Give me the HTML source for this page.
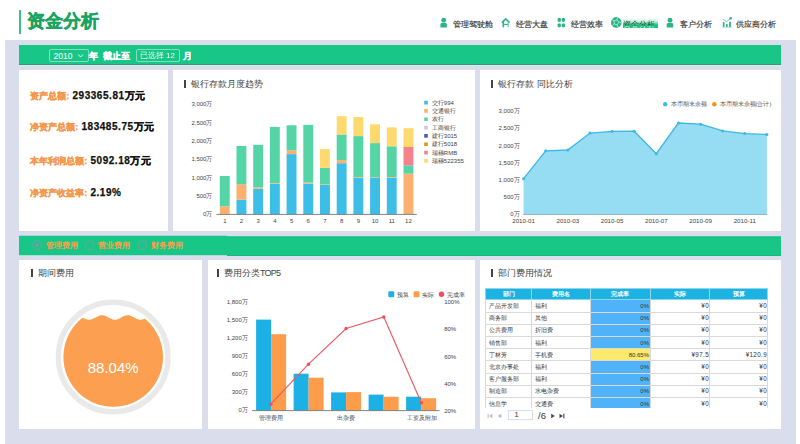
<!DOCTYPE html>
<html><head><meta charset="utf-8">
<style>
*{margin:0;padding:0;box-sizing:border-box}
html,body{width:800px;height:444px;overflow:hidden;background:#fff;font-family:"Liberation Sans",sans-serif;color:#333}
.a{position:absolute}
#title-bar{left:19px;top:10px;width:2px;height:24px;background:#3cbf87}
#title{left:27px;top:9px;font-size:17.5px;font-weight:bold;-webkit-text-stroke:.45px #19a463;color:#19a463;line-height:24px;white-space:nowrap}
.nav{top:18.5px;font-size:8px;line-height:12px;color:#333;white-space:nowrap;-webkit-text-stroke:.15px #333}
#bg{left:5px;top:40px;width:791px;height:404px;background:#d9ddec}
.gbar{background:#18c688}
.g1{border-bottom:1px solid #2b9f73;box-shadow:0 1px 0 #e5e3f3}
.g2{border-top:1px solid #12bd7c;border-bottom:1px solid #12bd7c}
.panel{background:#fff}
.sel{border:1px solid rgba(255,255,255,.45);border-radius:2px}
.rt{top:240px;font-size:8px;line-height:11px;font-weight:bold;color:#f5a04a;white-space:nowrap}
.wt{color:#fff;white-space:nowrap}
.ptitle{font-size:9px;line-height:10px;color:#444;white-space:nowrap}
.ptitle:before{content:"";display:inline-block;width:2px;height:8px;background:#444;margin-right:5px;vertical-align:-1px}
.kpi{white-space:nowrap;line-height:14px;font-size:9px}
.kl{font-size:9px;font-weight:bold;color:#f5974a;white-space:nowrap;-webkit-text-stroke:.25px #f5974a}
.kv{font-size:10px;font-weight:bold;color:#111;-webkit-text-stroke:.25px #111;letter-spacing:.55px;margin-left:.6px}
#tblwrap{left:485px;top:288.2px;width:283px;height:119.5px;overflow:hidden}
#tbl{border-collapse:collapse;table-layout:fixed;width:282px;font-size:6px;color:#333}
#tbl td{border:1px solid #d9d9d9;height:12.2px;padding:0 0 0 3px;white-space:nowrap;overflow:hidden;line-height:10px}
#tbl tr.th td{background:#1cb3e2;color:#fff;font-weight:bold;text-align:center;border-color:#8fd6ee;height:11.3px;padding:0}
#tbl td.c3{background:#50b3f9;text-align:right;padding:0 .5px 0 0}
#tbl td.y{background:#fde96b}
#tbl td.r{text-align:right;padding:0 0 0 0;font-size:6.3px;letter-spacing:.35px}
svg text{font-family:"Liberation Sans",sans-serif}
</style></head><body>
<div class="a" id="title-bar"></div>
<div class="a" id="title">资金分析</div>

<!-- nav -->
<svg class="a" style="left:0;top:0" width="800" height="40" viewBox="0 0 800 40">
 <g fill="#2bb583">
  <circle cx="443.7" cy="20.2" r="2.4"/>
  <path d="M440.4 27.4 V24.6 Q440.4 22.7 442.4 22.7 H445 Q446.9 22.7 446.9 24.6 V27.4 Z"/>
  <circle cx="670" cy="20.2" r="2.4"/>
  <path d="M666.7 27.4 V24.6 Q666.7 22.7 668.7 22.7 H671.3 Q673.2 22.7 673.2 24.6 V27.4 Z"/>
  <!-- swot -->
  <rect x="557.6" y="17.9" width="3.3" height="3.8" rx="1"/>
  <rect x="561.7" y="17.9" width="3.3" height="3.8" rx="1"/>
  <rect x="557.6" y="23.5" width="3.3" height="3.8" rx="1"/>
  <rect x="561.7" y="23.5" width="3.3" height="3.8" rx="1"/>
  <!-- globe -->
  <circle cx="616.3" cy="22.4" r="5.3"/>
  <!-- chart -->
  <rect x="722.8" y="22.1" width="1.7" height="4.8"/>
  <rect x="726" y="24.1" width="1.7" height="2.8"/>
  <rect x="729.1" y="21.9" width="1.8" height="5"/>
  <rect x="722.2" y="26.9" width="9.8" height="0.6" opacity=".6"/>
  <circle cx="730.6" cy="18.3" r="1.3"/>
 </g>
 <g fill="none" stroke="#2bb583">
  <path d="M501.9 22.6 L505.7 18.9 L509.6 22.6" stroke-width="1.6" stroke-linejoin="round"/>
  <path d="M503.3 22 V27.3" stroke-width="1.6"/>
  <path d="M508.3 22.4 V27.2" stroke-width="1.5" opacity=".55"/>
  <path d="M503.3 24.4 H508" stroke-width="1.1"/>
  <path d="M723.4 19.4 L726.6 21.7 L730.3 18.5" stroke-width=".9" opacity=".8"/>
  <path d="M616.97 19.89 L618.90 22.26 L617.23 24.83 L614.28 24.04 L614.12 20.98 Z M616.97 19.89 L617.67 17.28 M618.90 22.26 L621.59 22.12 M617.23 24.83 L618.20 27.35 M614.28 24.04 L612.18 25.74 M614.12 20.98 L611.86 19.51" stroke="#fff" stroke-width=".7" opacity=".8"/>
 </g>
</svg>
<div class="a nav" style="left:453px">管理驾驶舱</div>
<div class="a nav" style="left:516px">经营大盘</div>
<div class="a nav" style="left:570.5px">经营效率</div>
<div class="a" style="left:623.2px;top:18.2px;width:34.7px;height:9.5px;background:linear-gradient(to bottom,rgba(26,198,126,0) 0%,rgba(26,198,126,.25) 35%,#1ac67e 68%,#17c27a 100%)"></div>
<div class="a nav" style="left:623px;-webkit-text-stroke:0;color:transparent;background:linear-gradient(to bottom,#3a3a3a 0px,#3a3a3a 6.3px,#e8fff4 7.3px,#e8fff4 12px);-webkit-background-clip:text;background-clip:text">资金分析</div>
<div class="a nav" style="left:679.5px">客户分析</div>
<div class="a nav" style="left:735.5px">供应商分析</div>

<div class="a" id="bg"></div>
<div class="a gbar g1" style="left:19px;top:44.5px;width:762px;height:20.5px"></div>
<div class="a sel" style="left:49px;top:49px;width:39.5px;height:13px"></div>
<div class="a wt" style="left:53.5px;top:50px;font-size:8.5px;line-height:12px">2010</div>
<svg class="a" style="left:77px;top:53px" width="8" height="6"><path d="M1.2 1.5 L3.6 4 L6 1.5" fill="none" stroke="#fff" stroke-width=".9"/></svg>
<div class="a wt" style="left:88.5px;top:49.5px;font-size:9px;line-height:12px;font-weight:bold;-webkit-text-stroke:.3px #fff">年</div>
<div class="a wt" style="left:103px;top:49.5px;font-size:9px;line-height:12px;font-weight:bold;-webkit-text-stroke:.3px #fff">截止至</div>
<div class="a sel" style="left:135.5px;top:49px;width:44px;height:13px"></div>
<div class="a wt" style="left:139.8px;top:49.8px;font-size:8px;line-height:12px;opacity:.92">已选择 12</div>
<div class="a wt" style="left:182.5px;top:49.5px;font-size:9px;line-height:12px;font-weight:bold;-webkit-text-stroke:.3px #fff">月</div>
<div class="a panel" style="left:19px;top:70px;width:149px;height:161px"></div>
<div class="a kpi" style="left:30.3px;top:88.8px"><span class="kl">资产总额:</span> <span class="kv">293365.81万元</span></div>
<div class="a kpi" style="left:30.3px;top:120.3px"><span class="kl">净资产总额:</span> <span class="kv">183485.75万元</span></div>
<div class="a kpi" style="left:30.3px;top:153.8px"><span class="kl">本年利润总额:</span> <span class="kv">5092.18万元</span></div>
<div class="a kpi" style="left:30.3px;top:186.3px"><span class="kl">净资产收益率:</span> <span class="kv">2.19%</span></div>
<div class="a panel" style="left:173px;top:70px;width:302px;height:161px"></div>
<div class="a panel" style="left:480px;top:70px;width:301px;height:161px"></div>
<svg class="a" style="left:0;top:230px" width="800" height="30">
 <rect x="19" y="25.25" width="208" height="1" fill="#e6e2f4"/>
 <rect x="19" y="5.75" width="208" height="19.5" fill="#18c688"/>
 <rect x="227" y="6.5" width="554" height="19.5" fill="#18c688"/>
 <rect x="227" y="6.5" width="554" height=".9" fill="#10bd7a"/>
 <rect x="227" y="25.1" width="554" height=".9" fill="#10bd7a"/>
</svg>
<svg class="a" style="left:0;top:236px" width="200" height="19">
 <g fill="none" stroke="#8a9aa8" stroke-width=".9" opacity=".9">
  <circle cx="37.1" cy="9.1" r="4.4"/><circle cx="89.7" cy="9.1" r="4.4"/><circle cx="142.3" cy="9.1" r="4.4"/>
 </g>
 <circle cx="37.1" cy="9.1" r="1.6" fill="#b47cb6"/>
</svg>
<div class="a rt" style="left:45.5px">管理费用</div>
<div class="a rt" style="left:98px">营业费用</div>
<div class="a rt" style="left:150.8px">财务费用</div>
<div class="a panel" style="left:19px;top:260px;width:183px;height:169px"></div>
<div class="a panel" style="left:208px;top:260px;width:267px;height:169px"></div>
<div class="a panel" style="left:480px;top:260px;width:301px;height:169px"></div>

<div class="a" id="tblwrap">
<table id="tbl">
<colgroup><col style="width:46px"><col style="width:59px"><col style="width:59.5px"><col style="width:59.5px"><col style="width:58px"></colgroup>
<tr class="th"><td>部门</td><td>费用名</td><td>完成率</td><td>实际</td><td>预算</td></tr>
<tr><td>产品开发部</td><td>福利</td><td class="c3">0%</td><td class="r">¥0</td><td class="r">¥0</td></tr>
<tr><td>商务部</td><td>其他</td><td class="c3">0%</td><td class="r">¥0</td><td class="r">¥0</td></tr>
<tr><td>公共费用</td><td>折旧费</td><td class="c3">0%</td><td class="r">¥0</td><td class="r">¥0</td></tr>
<tr><td>销售部</td><td>福利</td><td class="c3">0%</td><td class="r">¥0</td><td class="r">¥0</td></tr>
<tr><td>丁林芳</td><td>手机费</td><td class="c3 y">80.65%</td><td class="r">¥97.5</td><td class="r">¥120.9</td></tr>
<tr><td>北京办事处</td><td>福利</td><td class="c3">0%</td><td class="r">¥0</td><td class="r">¥0</td></tr>
<tr><td>客户服务部</td><td>福利</td><td class="c3">0%</td><td class="r">¥0</td><td class="r">¥0</td></tr>
<tr><td>制造部</td><td>水电杂费</td><td class="c3">0%</td><td class="r">¥0</td><td class="r">¥0</td></tr>
<tr><td>信息学</td><td>交通费</td><td class="c3">0%</td><td class="r">¥0</td><td class="r">¥0</td></tr>
</table>
</div>
<svg class="a" style="left:485px;top:410px" width="85" height="12">
 <g fill="#b8bcc8"><rect x="2.6" y="3.8" width="1" height="4.4"/><path d="M7.4 3.8 L4 6 L7.4 8.2 Z"/><path d="M16.3 3.8 L12.6 6 L16.3 8.2 Z"/></g>
 <rect x="23.3" y=".7" width="24.2" height="9" fill="#fff" stroke="#c9d3e6" stroke-width=".8"/>
 <g fill="#3c4660"><path d="M66.2 3.7 L69.8 6 L66.2 8.3 Z"/><path d="M74.5 3.7 L78 6 L74.5 8.3 Z"/><rect x="78.3" y="3.7" width="1.1" height="4.6"/></g>
</svg>
<div class="a" style="left:514.6px;top:410.3px;font-size:7.5px;line-height:9px;color:#333">1</div>
<div class="a" style="left:538px;top:409.5px;font-size:9.5px;line-height:11px;color:#333">/6</div>

<!-- panel titles -->
<div class="a ptitle" style="left:184px;top:79px">银行存款月度趋势</div>
<div class="a ptitle" style="left:491px;top:79px">银行存款 同比分析</div>
<div class="a ptitle" style="left:31px;top:268px">期间费用</div>
<div class="a ptitle" style="left:217px;top:268px">费用分类<span style="letter-spacing:-.8px">TOP5</span></div>
<div class="a ptitle" style="left:491px;top:268px">部门费用情况</div>

<!--CHARTS-->
<svg class="a" style="left:0;top:0" width="800" height="444" viewBox="0 0 800 444">
<g id="barchart">
<rect x="219.8" y="206.3" width="9.9" height="8.0" fill="#fcaf6e"/>
<rect x="219.8" y="176.0" width="9.9" height="30.3" fill="#55d5a5"/>
<rect x="236.5" y="199.6" width="9.9" height="14.7" fill="#3cbee6"/>
<rect x="236.5" y="184.2" width="9.9" height="15.4" fill="#fcaf6e"/>
<rect x="236.5" y="146.0" width="9.9" height="38.2" fill="#55d5a5"/>
<rect x="253.2" y="188.8" width="9.9" height="25.5" fill="#3cbee6"/>
<rect x="253.2" y="187.3" width="9.9" height="1.5" fill="#fcaf6e"/>
<rect x="253.2" y="144.8" width="9.9" height="42.5" fill="#55d5a5"/>
<rect x="269.9" y="183.6" width="9.9" height="30.7" fill="#3cbee6"/>
<rect x="269.9" y="183.0" width="9.9" height="0.6" fill="#fcaf6e"/>
<rect x="269.9" y="126.9" width="9.9" height="56.1" fill="#55d5a5"/>
<rect x="286.6" y="154.1" width="9.9" height="60.2" fill="#3cbee6"/>
<rect x="286.6" y="150.4" width="9.9" height="3.7" fill="#fcaf6e"/>
<rect x="286.6" y="125.3" width="9.9" height="25.1" fill="#55d5a5"/>
<rect x="303.3" y="183.6" width="9.9" height="30.7" fill="#3cbee6"/>
<rect x="303.3" y="182.5" width="9.9" height="1.1" fill="#fcaf6e"/>
<rect x="303.3" y="124.8" width="9.9" height="57.7" fill="#55d5a5"/>
<rect x="320.0" y="184.9" width="9.9" height="29.4" fill="#3cbee6"/>
<rect x="320.0" y="184.3" width="9.9" height="0.6" fill="#fcaf6e"/>
<rect x="320.0" y="167.9" width="9.9" height="16.4" fill="#55d5a5"/>
<rect x="320.0" y="149.1" width="9.9" height="18.8" fill="#fed96e"/>
<rect x="336.7" y="163.2" width="9.9" height="51.1" fill="#3cbee6"/>
<rect x="336.7" y="160.1" width="9.9" height="3.1" fill="#fcaf6e"/>
<rect x="336.7" y="134.5" width="9.9" height="25.6" fill="#55d5a5"/>
<rect x="336.7" y="116.2" width="9.9" height="18.3" fill="#fed96e"/>
<rect x="353.4" y="177.6" width="9.9" height="36.7" fill="#3cbee6"/>
<rect x="353.4" y="177.0" width="9.9" height="0.6" fill="#fcaf6e"/>
<rect x="353.4" y="136.1" width="9.9" height="40.9" fill="#55d5a5"/>
<rect x="353.4" y="117.0" width="9.9" height="19.1" fill="#fed96e"/>
<rect x="370.1" y="177.6" width="9.9" height="36.7" fill="#3cbee6"/>
<rect x="370.1" y="177.2" width="9.9" height="0.4" fill="#fcaf6e"/>
<rect x="370.1" y="143.1" width="9.9" height="34.1" fill="#55d5a5"/>
<rect x="370.1" y="124.3" width="9.9" height="18.8" fill="#fed96e"/>
<rect x="386.8" y="177.6" width="9.9" height="36.7" fill="#3cbee6"/>
<rect x="386.8" y="177.0" width="9.9" height="0.6" fill="#fcaf6e"/>
<rect x="386.8" y="146.3" width="9.9" height="30.7" fill="#55d5a5"/>
<rect x="386.8" y="127.4" width="9.9" height="18.9" fill="#fed96e"/>
<rect x="403.5" y="173.7" width="9.9" height="40.6" fill="#fcaf6e"/>
<rect x="403.5" y="165.3" width="9.9" height="8.4" fill="#55d5a5"/>
<rect x="403.5" y="147.0" width="9.9" height="18.3" fill="#f4828c"/>
<rect x="403.5" y="128.2" width="9.9" height="18.8" fill="#fed96e"/>
<rect x="216.4" y="213.9" width="200.3" height="0.9" fill="#777"/>
<g font-size="6" fill="#444" text-anchor="end">
<text x="212.4" y="106.4">3,000万</text>
<text x="212.4" y="124.7">2,500万</text>
<text x="212.4" y="142.9">2,000万</text>
<text x="212.4" y="161.2">1,500万</text>
<text x="212.4" y="179.5">1,000万</text>
<text x="212.4" y="197.7">500万</text>
<text x="212.4" y="215.9">0万</text>
</g>
<g font-size="6" fill="#444" text-anchor="middle">
<text x="224.8" y="222.9">1</text>
<text x="241.4" y="222.9">2</text>
<text x="258.2" y="222.9">3</text>
<text x="274.8" y="222.9">4</text>
<text x="291.6" y="222.9">5</text>
<text x="308.2" y="222.9">6</text>
<text x="324.9" y="222.9">7</text>
<text x="341.6" y="222.9">8</text>
<text x="358.3" y="222.9">9</text>
<text x="375.1" y="222.9">10</text>
<text x="391.8" y="222.9">11</text>
<text x="408.4" y="222.9">12</text>
</g>
<g font-size="6" fill="#444">
<rect x="424.2" y="100.8" width="3.6" height="3.6" rx=".5" fill="#3cbee6"/>
<text x="431.8" y="104.7">交行994</text>
<rect x="424.2" y="109.1" width="3.6" height="3.6" rx=".5" fill="#fcaf6e"/>
<text x="431.8" y="113.0">交通银行</text>
<rect x="424.2" y="117.5" width="3.6" height="3.6" rx=".5" fill="#55d5a5"/>
<text x="431.8" y="121.4">农行</text>
<rect x="424.2" y="125.8" width="3.6" height="3.6" rx=".5" fill="#c7c4f6"/>
<text x="431.8" y="129.7">工商银行</text>
<rect x="424.2" y="134.1" width="3.6" height="3.6" rx=".5" fill="#4861ae"/>
<text x="431.8" y="138.0">建行3015</text>
<rect x="424.2" y="142.4" width="3.6" height="3.6" rx=".5" fill="#cf9e15"/>
<text x="431.8" y="146.3">建行5018</text>
<rect x="424.2" y="150.8" width="3.6" height="3.6" rx=".5" fill="#f4828c"/>
<text x="431.8" y="154.7">瑞穗RMB</text>
<rect x="424.2" y="159.1" width="3.6" height="3.6" rx=".5" fill="#fed96e"/>
<text x="431.8" y="163.0">瑞穗522355</text>
</g>
</g>
<g id="area">
<polygon points="523.6,214.5 523.6,178.7 545.7,150.8 567.8,150.0 590.0,133.1 612.1,131.4 634.2,131.2 656.3,153.7 678.4,123.0 700.6,124.2 722.7,130.9 744.8,133.6 766.9,134.5 766.9,214.5" fill="#96dcf2"/>
<polyline points="523.6,178.7 545.7,150.8 567.8,150.0 590.0,133.1 612.1,131.4 634.2,131.2 656.3,153.7 678.4,123.0 700.6,124.2 722.7,130.9 744.8,133.6 766.9,134.5" fill="none" stroke="#3cb8e2" stroke-width="1.3"/>
<circle cx="523.6" cy="178.7" r="1.5" fill="#3cb8e2"/>
<circle cx="545.7" cy="150.8" r="1.5" fill="#3cb8e2"/>
<circle cx="567.8" cy="150.0" r="1.5" fill="#3cb8e2"/>
<circle cx="590.0" cy="133.1" r="1.5" fill="#3cb8e2"/>
<circle cx="612.1" cy="131.4" r="1.5" fill="#3cb8e2"/>
<circle cx="634.2" cy="131.2" r="1.5" fill="#3cb8e2"/>
<circle cx="656.3" cy="153.7" r="1.5" fill="#3cb8e2"/>
<circle cx="678.4" cy="123.0" r="1.5" fill="#3cb8e2"/>
<circle cx="700.6" cy="124.2" r="1.5" fill="#3cb8e2"/>
<circle cx="722.7" cy="130.9" r="1.5" fill="#3cb8e2"/>
<circle cx="744.8" cy="133.6" r="1.5" fill="#3cb8e2"/>
<circle cx="766.9" cy="134.5" r="1.5" fill="#3cb8e2"/>
<rect x="523.2" y="214.1" width="244.1" height="0.8" fill="#7aaec4"/>
<g font-size="6" fill="#444" text-anchor="end">
<text x="519.6" y="112.9">3,000万</text>
<text x="519.6" y="130.4">2,500万</text>
<text x="519.6" y="147.7">2,000万</text>
<text x="519.6" y="164.8">1,500万</text>
<text x="519.6" y="181.9">1,000万</text>
<text x="519.6" y="199.1">500万</text>
<text x="519.6" y="216.1">0万</text>
</g>
<g font-size="6.2" fill="#444" text-anchor="middle">
<text x="523.6" y="222.7">2010-01</text>
<text x="567.8" y="222.7">2010-03</text>
<text x="612.1" y="222.7">2010-05</text>
<text x="656.3" y="222.7">2010-07</text>
<text x="700.6" y="222.7">2010-09</text>
<text x="744.8" y="222.7">2010-11</text>
</g>
<circle cx="665.2" cy="104.2" r="2.2" fill="#3cbde6"/><circle cx="714.3" cy="104.2" r="2.2" fill="#f7900f"/>
<g font-size="5.8" fill="#555"><text x="670.6" y="106.3">本币期末余额</text><text x="719.5" y="106.3">本币期末余额(合计)</text></g>
</g>
<g id="gauge">
<defs><clipPath id="gclip"><circle cx="113.2" cy="357.0" r="49.8"/></clipPath></defs>
<circle cx="113.2" cy="357.0" r="54.8" fill="none" stroke="#e9e9e9" stroke-width="5.4"/>
<path d="M60.0,319.00 L61.0,319.36 L62.0,319.61 L63.0,319.74 L64.0,319.73 L65.0,319.59 L66.0,319.33 L67.0,318.95 L68.0,318.50 L69.0,317.98 L70.0,317.43 L71.0,316.89 L72.0,316.38 L73.0,315.94 L74.0,315.60 L75.0,315.36 L76.0,315.26 L77.0,315.28 L78.0,315.44 L79.0,315.72 L80.0,316.11 L81.0,316.58 L82.0,317.10 L83.0,317.65 L84.0,318.19 L85.0,318.69 L86.0,319.12 L87.0,319.45 L88.0,319.66 L89.0,319.75 L90.0,319.70 L91.0,319.52 L92.0,319.23 L93.0,318.82 L94.0,318.35 L95.0,317.82 L96.0,317.27 L97.0,316.73 L98.0,316.24 L99.0,315.83 L100.0,315.51 L101.0,315.32 L102.0,315.25 L103.0,315.32 L104.0,315.51 L105.0,315.83 L106.0,316.24 L107.0,316.73 L108.0,317.27 L109.0,317.82 L110.0,318.35 L111.0,318.82 L112.0,319.23 L113.0,319.52 L114.0,319.70 L115.0,319.75 L116.0,319.66 L117.0,319.45 L118.0,319.12 L119.0,318.69 L120.0,318.19 L121.0,317.65 L122.0,317.10 L123.0,316.58 L124.0,316.11 L125.0,315.72 L126.0,315.44 L127.0,315.28 L128.0,315.26 L129.0,315.36 L130.0,315.60 L131.0,315.94 L132.0,316.38 L133.0,316.89 L134.0,317.43 L135.0,317.98 L136.0,318.50 L137.0,318.95 L138.0,319.33 L139.0,319.59 L140.0,319.73 L141.0,319.74 L142.0,319.61 L143.0,319.36 L144.0,319.00 L145.0,318.54 L146.0,318.03 L147.0,317.49 L148.0,316.94 L149.0,316.43 L150.0,315.98 L151.0,315.63 L152.0,315.38 L153.0,315.26 L154.0,315.27 L155.0,315.42 L156.0,315.69 L157.0,316.07 L158.0,316.53 L159.0,317.05 L160.0,317.60 L161.0,318.14 L162.0,318.64 L163.0,319.08 L164.0,319.42 L165.0,319.65 L166.0,319.75 L167.0,319.71 L167,410 L60,410 Z" fill="#fc9f50" clip-path="url(#gclip)"/>
<text x="113.2" y="372.9" font-size="15" fill="#fff" text-anchor="middle">88.04%</text>
</g>
<g id="combo">
<rect x="256.1" y="319.6" width="15" height="91.0" fill="#1bb1e4"/>
<rect x="271.1" y="334.2" width="15" height="76.4" fill="#fd9d4c"/>
<rect x="293.6" y="373.7" width="15" height="36.9" fill="#1bb1e4"/>
<rect x="308.6" y="377.7" width="15" height="32.9" fill="#fd9d4c"/>
<rect x="331.1" y="392.4" width="15" height="18.2" fill="#1bb1e4"/>
<rect x="346.1" y="392.1" width="15" height="18.5" fill="#fd9d4c"/>
<rect x="368.6" y="394.6" width="15" height="16.0" fill="#1bb1e4"/>
<rect x="383.6" y="396.7" width="15" height="13.9" fill="#fd9d4c"/>
<rect x="406.1" y="396.7" width="15" height="13.9" fill="#1bb1e4"/>
<rect x="421.1" y="398.2" width="15" height="12.4" fill="#fd9d4c"/>
<rect x="252" y="410.2" width="187.6" height="0.9" fill="#777"/>
<polyline points="270.8,404.2 308.5,364.2 346.1,328.5 383.8,317.0 421.3,402.8" fill="none" stroke="#ef5a62" stroke-width="1.15"/>
<circle cx="270.8" cy="404.2" r="1.7" fill="#ef4f5a"/>
<circle cx="308.5" cy="364.2" r="1.7" fill="#ef4f5a"/>
<circle cx="346.1" cy="328.5" r="1.7" fill="#ef4f5a"/>
<circle cx="383.8" cy="317.0" r="1.7" fill="#ef4f5a"/>
<circle cx="421.3" cy="402.8" r="1.7" fill="#ef4f5a"/>
<g font-size="6" fill="#444" text-anchor="end">
<text x="247.8" y="303.8">1,800万</text>
<text x="247.8" y="322.0">1,500万</text>
<text x="247.8" y="340.2">1,200万</text>
<text x="247.8" y="358.1">900万</text>
<text x="247.8" y="376.1">600万</text>
<text x="247.8" y="394.3">300万</text>
<text x="247.8" y="412.3">0万</text>
</g><g font-size="6" fill="#444">
<text x="444.2" y="303.8">100%</text>
<text x="444.2" y="331.2">80%</text>
<text x="444.2" y="358.6">60%</text>
<text x="444.2" y="385.5">40%</text>
<text x="444.2" y="412.5">20%</text>
</g><g font-size="5.8" fill="#444" text-anchor="middle">
<text x="271" y="419.6">管理费用</text>
<text x="346" y="419.6">出杂费</text>
<text x="421.6" y="419.6">工资及附加</text>
</g>
<rect x="388.3" y="291.3" width="5.9" height="5.9" rx="1.2" fill="#1bb1e4"/><rect x="413.6" y="291.3" width="5.9" height="5.9" rx="1.2" fill="#fd9d4c"/><circle cx="441.5" cy="294.3" r="2.7" fill="#ef4f5a"/>
<g font-size="6" fill="#444"><text x="396.5" y="296.6">预算</text><text x="421.6" y="296.6">实际</text><text x="446.7" y="296.6">完成率</text></g>
</g>
</svg>
</body></html>
